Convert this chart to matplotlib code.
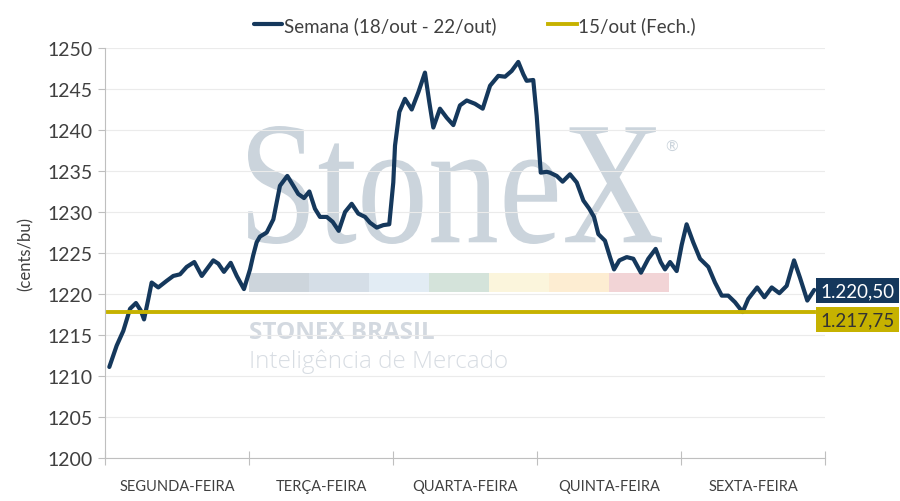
import matplotlib
matplotlib.use("Agg")
import matplotlib.pyplot as plt
import numpy as np
from matplotlib.textpath import TextPath
from matplotlib.patches import PathPatch
from matplotlib.font_manager import FontProperties
from matplotlib.transforms import Affine2D

plt.rcParams["font.family"] = ["Lato", "DejaVu Sans"]

# session position (1 unit = 1 trading day, Monday starts at 0) and price
t = [0.030, 0.081, 0.127, 0.174, 0.215, 0.248, 0.271, 0.301, 0.324, 0.370,
     0.428, 0.474, 0.521, 0.567, 0.620, 0.672, 0.752, 0.787, 0.826, 0.873,
     0.915, 0.965,
     1.007, 1.029, 1.053, 1.076, 1.123, 1.169, 1.215, 1.266, 1.308, 1.342,
     1.382, 1.419, 1.458, 1.493, 1.540, 1.581, 1.623, 1.667, 1.713, 1.759,
     1.806, 1.840, 1.887, 1.933, 1.974,
     2.002, 2.014, 2.044, 2.083, 2.130, 2.176, 2.222, 2.252, 2.280, 2.326,
     2.373, 2.419, 2.465, 2.512, 2.569, 2.623, 2.674, 2.731, 2.778, 2.824,
     2.870, 2.905, 2.928, 2.974, 2.998,
     3.026, 3.067, 3.090, 3.137, 3.178, 3.229, 3.276, 3.322, 3.363, 3.396,
     3.426, 3.472, 3.507, 3.535, 3.572, 3.623, 3.669, 3.722, 3.773, 3.824,
     3.859, 3.889, 3.924, 3.970,
     4.005, 4.039, 4.085, 4.132, 4.190, 4.236, 4.283, 4.328, 4.375, 4.428,
     4.467, 4.529, 4.579, 4.630, 4.683, 4.734, 4.785, 4.826, 4.877, 4.925]
price = [1211.1, 1213.7, 1215.5, 1218.2, 1218.9, 1218.0, 1216.9, 1219.4, 1221.4, 1220.8,
         1221.6, 1222.2, 1222.4, 1223.3, 1223.9, 1222.2, 1224.1, 1223.7, 1222.7, 1223.8,
         1222.2, 1220.6,
         1223.0, 1224.7, 1226.3, 1227.0, 1227.5, 1229.1, 1233.2, 1234.4, 1233.2, 1232.2,
         1231.7, 1232.5, 1230.4, 1229.4, 1229.4, 1228.8, 1227.7, 1230.0, 1231.0, 1229.8,
         1229.4, 1228.7, 1228.1, 1228.4, 1228.5,
         1233.6, 1238.1, 1242.2, 1243.8, 1242.5, 1244.6, 1247.0, 1243.4, 1240.3, 1242.6,
         1241.5, 1240.6, 1243.0, 1243.6, 1243.2, 1242.6, 1245.4, 1246.6, 1246.5, 1247.2,
         1248.3, 1246.8, 1246.0, 1246.1, 1241.7,
         1234.8, 1234.9, 1234.8, 1234.4, 1233.7, 1234.6, 1233.6, 1231.4, 1230.4, 1229.4,
         1227.3, 1226.5, 1224.5, 1223.0, 1224.1, 1224.5, 1224.3, 1222.6, 1224.3, 1225.5,
         1223.9, 1223.0, 1223.9, 1222.8,
         1226.0, 1228.5, 1226.3, 1224.3, 1223.3, 1221.4, 1219.8, 1219.8, 1219.0, 1217.8,
         1219.4, 1220.8, 1219.6, 1220.8, 1220.1, 1221.0, 1224.1, 1222.0, 1219.2, 1220.5]

prev_close = 1217.75
last_close = 1220.50
days = ["SEGUNDA-FEIRA", "TERÇA-FEIRA", "QUARTA-FEIRA", "QUINTA-FEIRA", "SEXTA-FEIRA"]
strip_colors = ["#CDD5DC", "#D5DEE7", "#E2ECF4", "#D4E3DA", "#FBF5DC", "#FDEDD2", "#F2D4D6"]

navy = "#15385C"
gold = "#C6B200"
wm = "#CBD4DC"


def br(v):
    return f"{v:,.2f}".replace(",", "X").replace(".", ",").replace("X", ".")


fig = plt.figure(figsize=(9, 5.02), dpi=100)
ax = fig.add_axes([105/900, 1-459/502, 720/900, 410/502])

ax.grid(axis="y", color="#EBEBEB", lw=0.8, zorder=0)
ax.set_axisbelow(True)

# watermark (drawn inside the axes, under the series)
tp = TextPath((0, 0), "StoneX", size=1, prop=FontProperties(family="Liberation Serif"))
ext = tp.get_extents()
sx = (662-248)/900 / ext.width
sy = (245-127)/502 / ext.height
tr = Affine2D().translate(-ext.x0, -ext.y0).scale(sx, sy).translate(248/900, 1-245/502) + fig.transFigure
ax.add_patch(PathPatch(tp, transform=tr, fc=wm, ec="none", zorder=0.5, clip_on=False))
ax.text(672/900, 1-148/502, "®", color=wm, fontsize=11, ha="center", va="center",
        transform=fig.transFigure, zorder=0.5)
ax.text(249/900, 1-333/502, "STONEX BRASIL", color="#D3D9E0", fontsize=17.5,
        fontweight="bold", family="Open Sans", va="center", transform=fig.transFigure, zorder=0.5)
ax.text(249/900, 1-362/502, "Inteligência de Mercado", color="#D8DDE3", fontsize=17.5,
        fontweight="light", family="Open Sans", va="center", transform=fig.transFigure, zorder=0.5)
for i, c in enumerate(strip_colors):
    ax.fill_between([1 + i*0.4167, 1 + (i+1)*0.4167], 1220.25, 1222.55, color=c, lw=0, zorder=1)

ax.plot(t, price, color=navy, lw=3.0, solid_joinstyle="round", solid_capstyle="round",
        label="Semana (18/out - 22/out)", zorder=3)
ax.plot([0.02, t[-1]], [prev_close, prev_close], color=gold, lw=2.8, label="15/out (Fech.)", zorder=4)

ax.annotate(br(last_close), (t[-1], last_close), xytext=(4.5, -0.5), textcoords="offset points",
            ha="left", va="center", color="white", fontsize=13.5, zorder=6,
            bbox=dict(boxstyle="square,pad=0.22", fc=navy, ec="none"), annotation_clip=False)
ax.annotate(br(prev_close), (t[-1], prev_close), xytext=(4.5, -5), textcoords="offset points",
            ha="left", va="center", color="#333333", fontsize=13.5, zorder=6,
            bbox=dict(boxstyle="square,pad=0.22", fc=gold, ec="none"), annotation_clip=False)

ax.set_xlim(0, 5)
ax.set_ylim(1200, 1250)
ax.set_yticks(np.arange(1200, 1251, 5))
ax.set_xticks(np.arange(0, 6))
ax.set_xticklabels([])
ax.set_xticks(np.arange(0.5, 5), minor=True)
ax.set_xticklabels(days, minor=True)
ax.tick_params(axis="x", which="major", direction="inout", length=10, color="#BFBFBF")
ax.tick_params(axis="x", which="minor", length=0, pad=15, labelsize=10.5, labelcolor="#404040")
ax.tick_params(axis="y", length=5, color="#BFBFBF", labelsize=14, labelcolor="#404040", pad=4)
for s in ["top", "right"]:
    ax.spines[s].set_visible(False)
for s in ["left", "bottom"]:
    ax.spines[s].set_color("#BFBFBF")
ax.set_ylabel("(cents/bu)", fontsize=12, color="#404040", labelpad=10)

fig.legend(loc="upper center", bbox_to_anchor=(0.528, 1.0), ncol=2, frameon=False,
           fontsize=13.5, handlelength=1.5, handletextpad=0.1, columnspacing=2.75,
           labelcolor="#404040")

fig.savefig("out.png", dpi=100)
